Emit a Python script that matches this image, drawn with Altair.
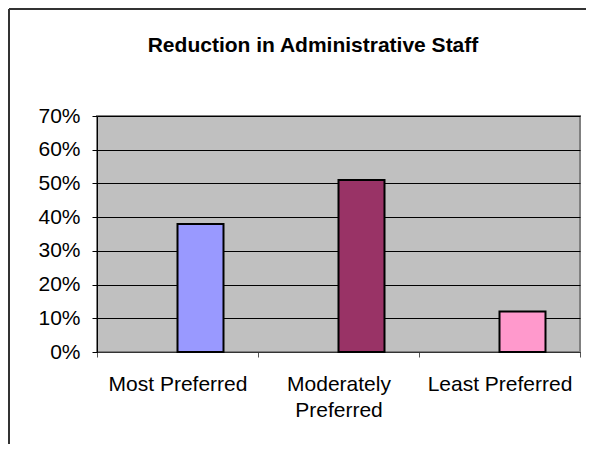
import altair as alt
import pandas as pd

categories = ["Most Preferred", "Moderately Preferred", "Least Preferred"]
values = [0.38, 0.51, 0.12]
colors = ["#9999FF", "#993366", "#FF99CC"]
title_text = "Reduction in Administrative Staff"

df = pd.DataFrame({"cat": categories, "val": values, "slot": ["b"] * 3})

FONT = "Liberation Sans"
W, H = 483, 236

bars = alt.Chart(df).mark_bar(stroke="black", strokeWidth=2).encode(
    x=alt.X("cat:N", sort=categories, title=None,
            scale=alt.Scale(paddingInner=0, paddingOuter=0),
            axis=alt.Axis(labelAngle=0, tickBand="extent", labelPadding=16,
                          tickSize=5, tickColor="#555555", domainColor="#333333",
                          labelFontSize=21, labelFont=FONT, labelColor="black",
                          labelLineHeight=26, labelBaseline="top",
                          labelExpr="datum.label == 'Moderately Preferred' ? ['Moderately', 'Preferred'] : datum.label")),
    xOffset=alt.XOffset("slot:N", scale=alt.Scale(domain=["a", "b"], paddingInner=0, paddingOuter=0.75)),
    y=alt.Y("val:Q", title=None,
            scale=alt.Scale(domain=[0, 0.7], nice=False),
            axis=alt.Axis(format=".0%", values=[0, 0.1, 0.2, 0.3, 0.4, 0.5, 0.6, 0.7],
                          grid=True, gridColor="black", gridWidth=1,
                          domainColor="black", tickColor="black", tickSize=5,
                          labelPadding=12, labelFontSize=21, labelFont=FONT,
                          labelColor="black")),
    color=alt.Color("cat:N", sort=categories,
                    scale=alt.Scale(domain=categories, range=colors), legend=None),
)

title = alt.Chart(alt.Data(values=[{"t": title_text}])).mark_text(
    font=FONT, fontSize=21, fontWeight="bold", color="black", baseline="alphabetic", align="center"
).encode(text="t:N", x=alt.value(216), y=alt.value(-64))

top_border = alt.Chart(alt.Data(values=[{}])).mark_rule(color="#333333", strokeWidth=2).encode(
    x=alt.value(-88), x2=alt.value(W + 10), y=alt.value(-107))
left_border = alt.Chart(alt.Data(values=[{}])).mark_rule(color="#333333", strokeWidth=2).encode(
    x=alt.value(-88), y=alt.value(-107), y2=alt.value(H + 95))

chart = alt.layer(top_border, left_border, bars, title).properties(
    width=W, height=H,
    autosize=alt.AutoSizeParams(type="none"),
    padding={"left": 89, "top": 108, "right": 6, "bottom": 92},
    background="white",
).configure_view(fill="#C0C0C0", stroke="#808080", strokeWidth=2)

chart.save("out.html", embed_options={"renderer": "svg", "actions": False})
